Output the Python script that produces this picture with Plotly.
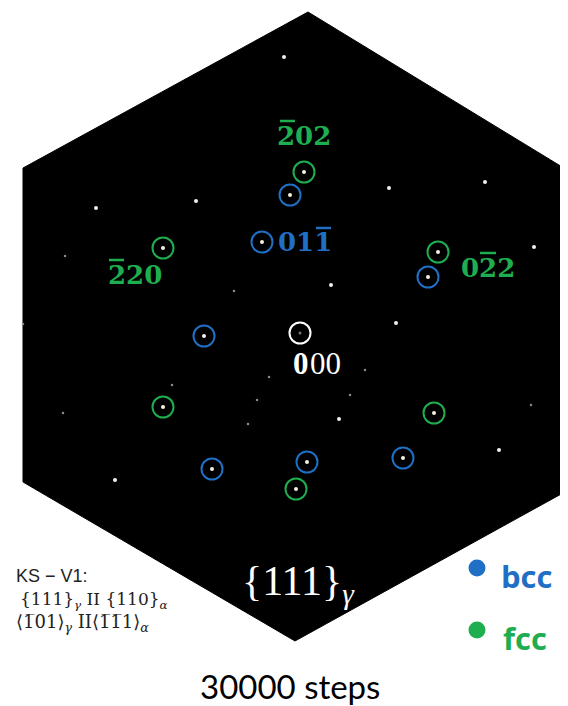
import plotly.graph_objects as go

W, H = 568, 706
OFF = 8  # page body margin in the browser

# Hexagon outline of the diffraction pattern (pixel frame)
hex_x = [308, 572, 563, 295, 23, 23, 308]
hex_y = [12, 173, 493, 641, 482, 168, 12]

# fcc (green) reflections
fcc_x = [304, 163, 438, 163, 434, 296]
fcc_y = [172, 248, 252, 407, 413, 489]
# bcc (blue) reflections
bcc_x = [290, 262, 428, 204, 212, 307, 403]
bcc_y = [195, 242, 277, 336, 469, 462, 458]
# transmitted beam
orig_x = [300]
orig_y = [333]

# other bright spots
spot_x = [284, 96, 196, 389, 485, 331, 396, 339, 499, 115, 534]
spot_y = [57, 208, 201, 188, 182, 285, 323, 419, 450, 480, 247]
# faint spots
faint_x = [65, 234, 257, 63, 172, 531, 269, 248, 350, 365, 23]
faint_y = [256, 291, 400, 413, 385, 405, 377, 424, 395, 370, 324]

# reflection labels
lab_text = ["202", "011", "220", "022"]
lab_x = [304, 305, 135, 488]
lab_y = [136, 242, 275, 268]
lab_phase = ["fcc", "bcc", "fcc", "fcc"]

GREEN = "#1fae4f"
BLUE = "#1f6fc4"
PHASE_COL = {"fcc": GREEN, "bcc": BLUE}

fig = go.Figure()
fig.add_trace(go.Scatter(x=hex_x, y=hex_y, mode="lines", fill="toself",
                         fillcolor="black", line=dict(color="black", width=1),
                         hoverinfo="skip", showlegend=False))
fig.add_trace(go.Scatter(x=faint_x, y=faint_y, mode="markers",
                         marker=dict(color="#8a8a8a", size=2.5), showlegend=False))
fig.add_trace(go.Scatter(x=spot_x, y=spot_y, mode="markers",
                         marker=dict(color="#f0f0f0", size=4), showlegend=False))
fig.add_trace(go.Scatter(x=fcc_x + bcc_x, y=fcc_y + bcc_y, mode="markers",
                         marker=dict(color="#f5f0e0", size=4), showlegend=False))
fig.add_trace(go.Scatter(x=orig_x, y=orig_y, mode="markers",
                         marker=dict(color="#777777", size=3), showlegend=False))
fig.add_trace(go.Scatter(x=fcc_x, y=fcc_y, mode="markers",
                         marker=dict(symbol="circle-open", size=21, color=GREEN,
                                     line=dict(width=2, color=GREEN)), showlegend=False))
fig.add_trace(go.Scatter(x=bcc_x, y=bcc_y, mode="markers",
                         marker=dict(symbol="circle-open", size=21, color=BLUE,
                                     line=dict(width=2, color=BLUE)), showlegend=False))
fig.add_trace(go.Scatter(x=orig_x, y=orig_y, mode="markers",
                         marker=dict(symbol="circle-open", size=21, color="white",
                                     line=dict(width=2, color="white")), showlegend=False))

OV = "\u0305"
serif = "DejaVu Serif"
ann = []
for t, x, y, p in zip(lab_text, lab_x, lab_y, lab_phase):
    ann.append(dict(x=x, y=y, text=t, font=dict(color=PHASE_COL[p], size=26, family=serif, weight="bold")))
ann += [
    dict(x=301, y=363, text="0", font=dict(color="white", size=31, family="Liberation Serif", weight="bold")),
    dict(x=325, y=363, text="00", font=dict(color="white", size=31, family="Liberation Serif")),
    dict(x=298, y=584, text="{111}<sub><i>γ</i></sub>", font=dict(color="white", size=42, family="Liberation Serif")),
    dict(x=14, y=576, text="KS − V1:", xanchor="left", font=dict(color="#222", size=18, family="Liberation Sans")),
    dict(x=18, y=600, text="{111}<sub><i>γ</i></sub> II {110}<sub><i>α</i></sub>", xanchor="left",
         font=dict(color="#222", size=17, family=serif)),
    dict(x=14, y=623, text="⟨1" + OV + "01⟩<sub><i>γ</i></sub> II⟨1" + OV + "1" + OV + "1⟩<sub><i>α</i></sub>",
         xanchor="left", font=dict(color="#222", size=18, family=serif)),
    dict(x=499, y=576, text="bcc", xanchor="left", font=dict(color=BLUE, size=31, family="Open Sans", weight="bold")),
    dict(x=501, y=638, text="fcc", xanchor="left", font=dict(color=GREEN, size=31, family="Open Sans", weight="bold")),
    dict(x=290, y=686, text="30000 steps", font=dict(color="black", size=33, family="Lato")),
]
for a in ann:
    a.setdefault("xanchor", "center")
    fig.add_annotation(xref="x", yref="y", yanchor="middle", showarrow=False, **a)

# overbars on the Miller indices (x0, x1, y, colour)
bars = [(280, 295, 121, GREEN), (316, 331, 228, BLUE), (109, 124, 260, GREEN), (480, 496, 253, GREEN)]
for x0, x1, yb, c in bars:
    fig.add_shape(type="line", xref="x", yref="y", x0=x0, x1=x1, y0=yb, y1=yb,
                  line=dict(color=c, width=2.5))

# legend dots
fig.add_trace(go.Scatter(x=[477], y=[568], mode="markers",
                         marker=dict(color=BLUE, size=17), showlegend=False))
fig.add_trace(go.Scatter(x=[477], y=[630], mode="markers",
                         marker=dict(color=GREEN, size=17), showlegend=False))

fig.update_xaxes(range=[OFF, W], visible=False, fixedrange=True)
fig.update_yaxes(range=[H, OFF], visible=False, fixedrange=True)
fig.update_layout(width=W - OFF, height=H - OFF, margin=dict(l=0, r=0, t=0, b=0),
                  paper_bgcolor="white", plot_bgcolor="white", showlegend=False)
fig.write_html("out.html")
